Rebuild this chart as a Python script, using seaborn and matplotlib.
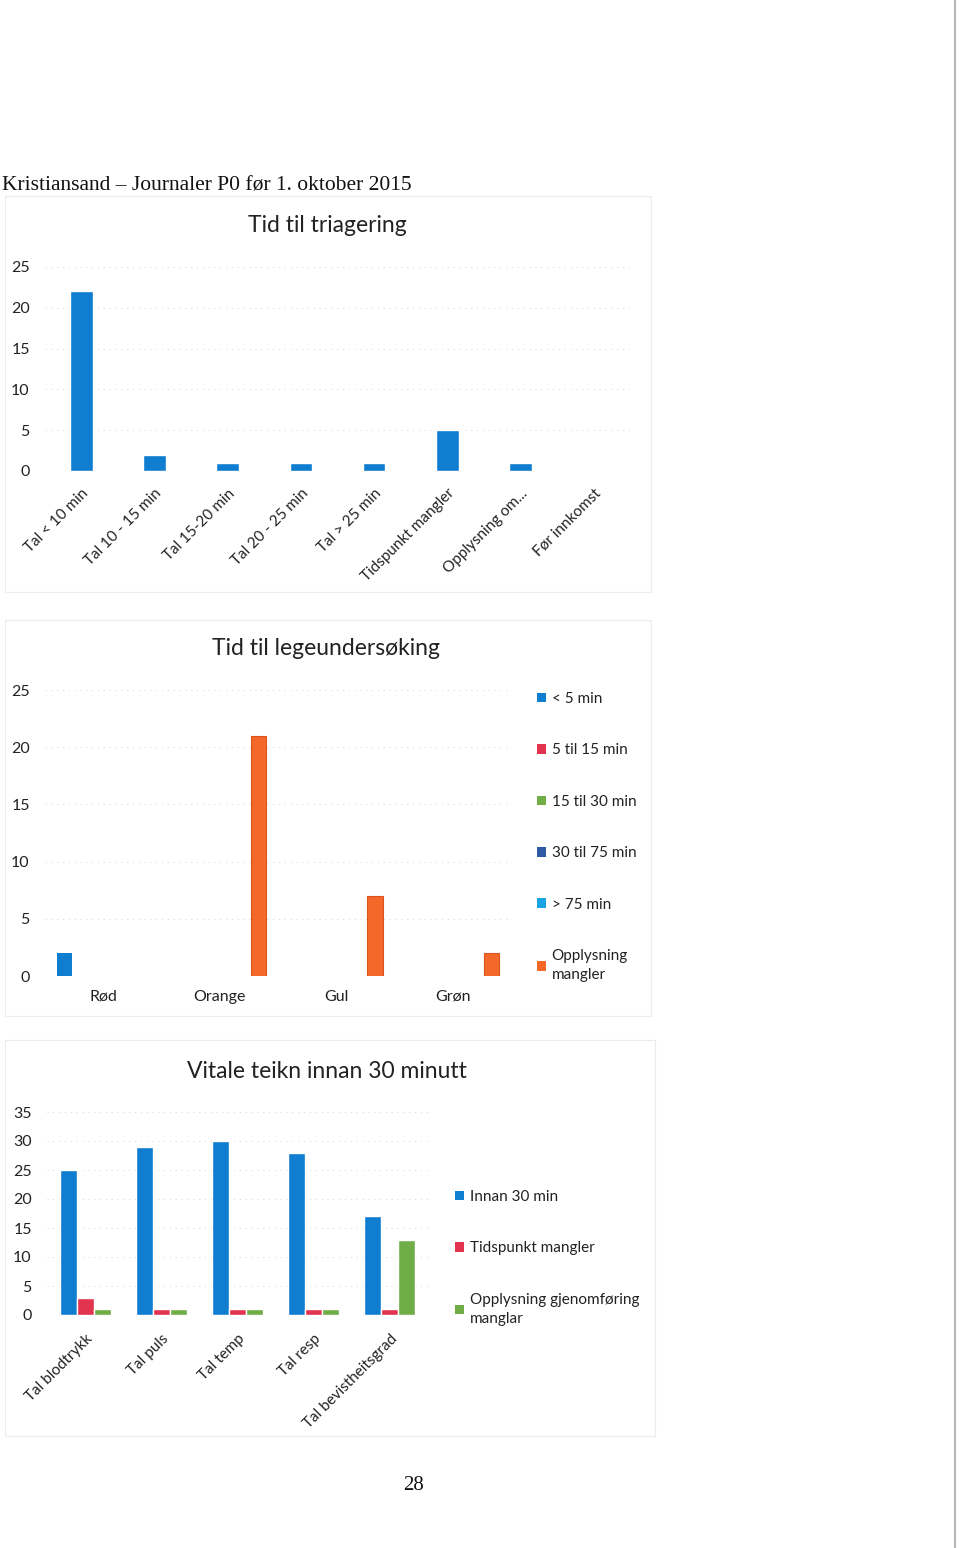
import matplotlib
matplotlib.use("Agg")
import matplotlib.pyplot as plt
import seaborn as sns
import pandas as pd
from matplotlib.patches import Patch, Rectangle
from matplotlib.lines import Line2D

# ---------------- data ----------------
tri_categories = ["Tal < 10 min", "Tal 10 - 15 min", "Tal 15-20 min", "Tal 20 - 25 min",
                  "Tal > 25 min", "Tidspunkt mangler", "Opplysning om...", "Før innkomst"]
tri_values = [22, 2, 1, 1, 1, 5, 1, 0]

lege_categories = ["Rød", "Orange", "Gul", "Grøn"]
lege_series = ["< 5 min", "5 til 15 min", "15 til 30 min", "30 til 75 min", "> 75 min",
               "Opplysning\nmangler"]
lege_lt5 = [2, 0, 0, 0]
lege_5_15 = [0, 0, 0, 0]
lege_15_30 = [0, 0, 0, 0]
lege_30_75 = [0, 0, 0, 0]
lege_gt75 = [0, 0, 0, 0]
lege_missing = [0, 21, 7, 2]

vit_categories = ["Tal blodtrykk", "Tal puls", "Tal temp", "Tal resp", "Tal bevistheitsgrad"]
vit_series = ["Innan 30 min", "Tidspunkt mangler", "Opplysning gjenomføring\nmanglar"]
vit_within = [25, 29, 30, 28, 17]
vit_time_missing = [3, 1, 1, 1, 1]
vit_info_missing = [1, 1, 1, 1, 13]

# ---------------- style ----------------
sns.set_theme(style="white")
plt.rcParams["font.family"] = ["Lato", "DejaVu Sans"]

BLUE = "#0f7dd0"
RED = "#e2334f"
GREEN = "#70ad47"
DBLUE = "#2e5aa6"
LBLUE = "#18a3e2"
ORANGE = "#f4682a"
TXT = "#222222"

W, H = 960, 1548
fig = plt.figure(figsize=(W / 100, H / 100), dpi=100)


def fx(px):
    return px / W


def fy(py):
    return 1 - py / H


def style_axis(ax, ymax, step):
    ax.set_ylim(0, ymax)
    ax.set_yticks(range(0, ymax + 1, step))
    for s in ax.spines.values():
        s.set_visible(False)
    ax.yaxis.grid(True, color="#d4d4d4", linestyle=(0, (1, 5)), linewidth=0.7)
    ax.set_axisbelow(True)
    ax.tick_params(axis="both", length=0, labelsize=11.5, colors=TXT)
    ax.tick_params(axis="y", pad=11)
    ax.set_xlabel("")
    ax.set_ylabel("")
    ax.set_facecolor("none")


# faint chart frames
for (x0, y0, x1, y1) in [(5, 196, 651, 592), (5, 620, 651, 1016), (5, 1040, 655, 1436)]:
    fig.patches.append(Rectangle((fx(x0), fy(y1)), fx(x1) - fx(x0), fy(y0) - fy(y1),
                                 transform=fig.transFigure, fill=False,
                                 edgecolor="#ececec", linewidth=0.8))
# page edge line
fig.add_artist(Line2D([fx(955), fx(955)], [0, 1], transform=fig.transFigure,
                      color="#b5b5b5", linewidth=1.5))

# header & page number
fig.text(fx(2), fy(186), "Kristiansand – Journaler P0 før 1. oktober 2015",
         family=["Liberation Serif", "DejaVu Serif"], fontsize=15.5, color="#111111",
         ha="left", va="center")
fig.text(fx(414), fy(1485), "28", family=["Liberation Serif", "DejaVu Serif"],
         fontsize=15, color="#111111", ha="center", va="center")

# ---------------- chart 1 ----------------
ax1 = fig.add_axes([fx(45), fy(471), fx(630) - fx(45), fy(267) - fy(471)])
df1 = pd.DataFrame({"cat": tri_categories, "val": tri_values})
sns.barplot(data=df1, x="cat", y="val", color=BLUE, width=0.31, saturation=1, ax=ax1)
style_axis(ax1, 25, 5)
ax1.set_xlim(-0.5, len(tri_categories) - 0.5)
ax1.tick_params(axis="x", pad=11, labelsize=11)
plt.setp(ax1.get_xticklabels(), rotation=45, ha="right", rotation_mode="anchor")
fig.text(fx(327), fy(226), "Tid til triagering", fontsize=16.5, color=TXT,
         ha="center", va="center")

# ---------------- chart 2 ----------------
ax2 = fig.add_axes([fx(45), fy(976), fx(511) - fx(45), fy(690) - fy(976)])
rows = []
for series, vals in zip(lege_series, [lege_lt5, lege_5_15, lege_15_30, lege_30_75,
                                      lege_gt75, lege_missing]):
    for c, v in zip(lege_categories, vals):
        rows.append({"cat": c, "series": series, "val": v})
df2 = pd.DataFrame(rows)
pal2 = dict(zip(lege_series, [BLUE, RED, GREEN, DBLUE, LBLUE, ORANGE]))
sns.barplot(data=df2, x="cat", y="val", hue="series", hue_order=lege_series,
            order=lege_categories, palette=pal2, width=0.8, saturation=1,
            legend=False, ax=ax2)
for p in ax2.patches:
    if p.get_height() > 0 and p.get_facecolor()[:3] == matplotlib.colors.to_rgb(ORANGE):
        p.set_edgecolor("#d9531e")
        p.set_linewidth(0.8)
    else:
        p.set_linewidth(0)
style_axis(ax2, 25, 5)
ax2.set_xlim(-0.5, len(lege_categories) - 0.5)
ax2.tick_params(axis="x", pad=10)
fig.text(fx(326), fy(649), "Tid til legeundersøking", fontsize=16.5, color=TXT,
         ha="center", va="center")
handles2 = [Patch(facecolor=pal2[s], edgecolor="none") for s in lege_series]
leg2 = ax2.legend(handles2, lege_series, loc="upper left",
                  bbox_to_anchor=(fx(537), fy(692)), bbox_transform=fig.transFigure,
                  frameon=False, fontsize=11, labelspacing=2.45, handlelength=0.6,
                  handleheight=0.6, handletextpad=0.35, borderpad=0, borderaxespad=0,
                  labelcolor=TXT)
for t in leg2.get_texts():
    t.set_linespacing(1.45)

# ---------------- chart 3 ----------------
ax3 = fig.add_axes([fx(47), fy(1315), fx(428) - fx(47), fy(1112) - fy(1315)])
rows = []
for series, vals in zip(vit_series, [vit_within, vit_time_missing, vit_info_missing]):
    for c, v in zip(vit_categories, vals):
        rows.append({"cat": c, "series": series, "val": v})
df3 = pd.DataFrame(rows)
pal3 = dict(zip(vit_series, [BLUE, RED, GREEN]))
sns.barplot(data=df3, x="cat", y="val", hue="series", hue_order=vit_series,
            order=vit_categories, palette=pal3, width=0.67, saturation=1,
            legend=False, ax=ax3)
style_axis(ax3, 35, 5)
ax3.set_xlim(-0.5, len(vit_categories) - 0.5)
ax3.tick_params(axis="x", pad=12, labelsize=11)
plt.setp(ax3.get_xticklabels(), rotation=45, ha="right", rotation_mode="anchor")
fig.text(fx(327), fy(1071), "Vitale teikn innan 30 minutt", fontsize=16.5, color=TXT,
         ha="center", va="center")
handles3 = [Patch(facecolor=pal3[s], edgecolor="none") for s in vit_series]
leg3 = ax3.legend(handles3, vit_series, loc="upper left",
                  bbox_to_anchor=(fx(455), fy(1190)), bbox_transform=fig.transFigure,
                  frameon=False, fontsize=11, labelspacing=2.45, handlelength=0.6,
                  handleheight=0.6, handletextpad=0.35, borderpad=0, borderaxespad=0,
                  labelcolor=TXT)
for t in leg3.get_texts():
    t.set_linespacing(1.45)

fig.savefig("out.png", dpi=100, facecolor="white")
